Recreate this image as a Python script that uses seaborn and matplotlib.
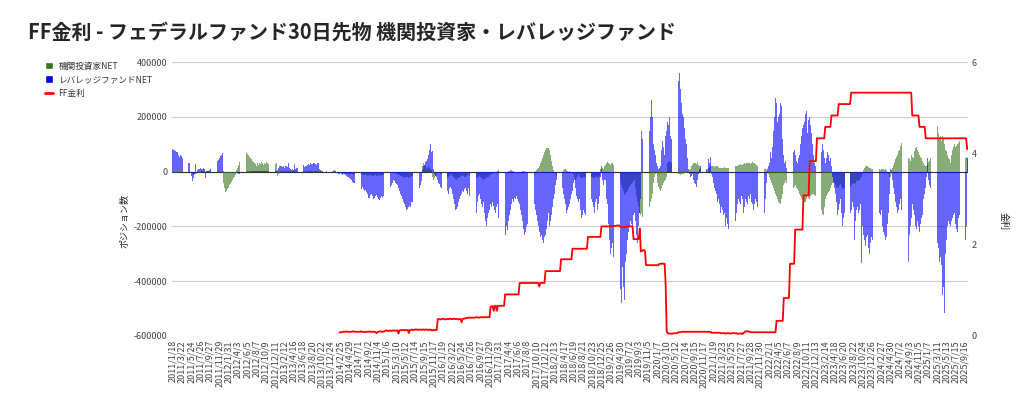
import numpy as np
import pandas as pd
import matplotlib
matplotlib.use("Agg")
import matplotlib.pyplot as plt
from matplotlib.patches import Patch
from matplotlib.lines import Line2D
import seaborn as sns

# 週次データ(千枚単位) 2011/1/18 から
start_date = "2011-01-18"

lev_2011 = [83, 80, 78, 75, 72, 70, 60, 55, 62, 58,
            50, 45, 42, 38, 35, 32, 30, -5, -15, -34,
            -25, -10, 28, -5, 5, 8, 10, 12, 10, 8,
            12, 10, -24, 3, 2, 4, 6, 10, 14, 18,
            22, 26, 32, 38, 44, 50, 56, 62, 67, 2,
            0, -3]
inst_2011 = [-4, -5, -3, -4, -2, -5, -3, -4, -3, -2,
             -3, -2, -4, -3, -2, -1, -2, -3, -5, -8,
             -10, -12, -10, -8, -6, -4, -3, -2, 2, 3,
             2, 1, 0, 1, 2, 1, 0, -1, 0, 1,
             2, 1, 0, -1, 0, 1, 0, -2, -4, -40,
             -60, -73]

lev_2012 = [-3, -2, -4, -3, -2, -1, -2, -3, -2, -1,
            -3, -5, -8, -8, -6, -4, -2, -2, -1, 0,
            2, 1, 0, 2, 1, 3, 2, 1, 2, 3,
            2, 1, 3, 2, 1, 2, 3, 2, 1, 2,
            3, 2, 1, 2, 3, 2, 1, 2, 3, 5,
            15, 20]
inst_2012 = [-70, -65, -60, -50, -45, -38, -30, -25, -20, -12,
             5, 15, 25, 35, 45, 52, 58, 63, 67, 68,
             66, 62, 55, 50, 45, 40, 35, 30, 28, 22,
             30, 25, 32, 27, 35, 30, 25, 33, 28, 36,
             30, 27, 32, 25, 30, 35, 38, 28, 33, -15,
             -10, -2]

lev_2013 = [20, 22, 18, 20, 15, 22, 20, 18, 30, 12,
            8, 6, 8, 5, 28, 10, 12, 15, 18, 20,
            15, 22, 25, 18, 20, 22, 25, 28, 24, 30,
            26, 28, 30, 32, 28, 25, 30, 32, 8, 5,
            3, 2, 0, -2, -3, -5, -8, -5, -3, -6,
            -2, 3]
inst_2013 = [2, 1, 3, 2, 1, 0, 2, 1, 3, 2,
             1, 0, 1, 2, 3, 2, 1, 0, 2, 1,
             0, 1, 2, 1, 0, 2, 1, 3, 2, 1,
             2, 1, 0, 1, 2, 3, 2, 1, 0, 1,
             0, -1, -2, -1, 0, 1, -1, -2, -1, 0,
             1, 0]

lev_2014 = [5, 3, -2, -5, -8, -10, -6, -10, -12, -8,
            -10, -12, -15, -18, -20, -25, -28, -32, -38, -40,
            -42, -45, -50, -48, -55, -60, -62, -58, -65, -70,
            -68, -75, -80, -95, -95, -85, -80, -90, -100, -95,
            -90, -85, -92, -100, -105, -98, -90, -95, -88, -80,
            -75, -70]
inst_2014 = [0, -1, -2, -3, -4, -5, -4, -6, -5, -6,
             -7, -8, -6, -8, -9, -10, -8, -9, -10, -12,
             -10, -9, -11, -12, -10, -9, -12, -11, -13, -12,
             -14, -12, -15, -13, -15, -14, -12, -16, -15, -14,
             -13, -15, -16, -14, -12, -15, -14, -13, -12, -10,
             -12, -11]

lev_2015 = [-65, -60, -55, -50, -40, -30, -35, -40, -45, -50,
            -60, -70, -80, -90, -100, -110, -120, -130, -140, -135,
            -130, -125, -130, -110, -110, -100, -105, -90, -80, -70,
            -60, -50, -35, 5, 20, 25, 35, 40, 45, 60,
            80, 100, 70, 75, 10, -10, -15, -20, -30, -40,
            -45, -55]
inst_2015 = [-10, -8, -6, -5, -4, -3, -5, -6, -8, -10,
             -12, -14, -15, -16, -18, -20, -22, -20, -18, -20,
             -22, -20, -18, -15, -14, -12, -10, -8, -6, -5,
             -4, -3, -2, 20, 30, 25, 20, 10, 15, 20,
             15, 10, 5, -20, -30, -25, -15, -10, -5, -3,
             -5, -8]

lev_2016 = [-60, -70, -80, -90, -85, -70, -80, -60, -55, -65,
            -80, -100, -120, -140, -135, -130, -110, -100, -90, -80,
            -70, -75, -65, -60, -70, -80, -60, -90, -110, -130,
            -150, -160, -175, -150, -110, -90, -80, -100, -120, -130,
            -110, -150, -180, -200, -170, -150, -140, -120, -130, -110,
            -125, -140]
inst_2016 = [-10, -12, -15, -18, -20, -22, -18, -15, -12, -10,
             -15, -20, -25, -28, -30, -25, -22, -20, -18, -15,
             -12, -15, -18, -20, -15, -12, -10, -15, -20, -25,
             -28, -30, -25, -22, -20, -18, -15, -20, -25, -28,
             -30, -28, -25, -22, -20, -18, -15, -12, -10, -8,
             -5, -3]

lev_2017 = [-150, -130, -120, -170, -200, -210, -230, -220, -235, -230,
            -200, -215, -180, -160, -140, -120, -100, -110, -95, -100,
            -90, -100, -110, -120, -140, -160, -180, -210, -230, -220,
            -200, -190, -160, -140, -130, -150, -130, -120, -140, -160,
            -180, -200, -220, -240, -230, -250, -260, -240, -230, -210,
            -180, -150]
inst_2017 = [-2, 0, 3, 5, 4, 2, 0, -3, -5, -4,
             -2, 0, 2, 4, 6, 5, 3, 1, 0, -2,
             -4, -6, -5, -3, -1, 0, 2, 3, 1, 0,
             -2, -3, -1, 0, 2, 3, 1, 0, 2, 5,
             10, 15, 20, 30, 40, 50, 60, 70, 80, 85,
             88, 86]

lev_2018 = [-200, -180, -160, -130, -100, -80, -50, -30, -25, -20,
            -30, -40, -60, -80, -100, -120, -150, -140, -130, -120,
            -100, -80, -70, -40, -30, -60, -90, -100, -110, -100,
            -140, -170, -160, -140, -150, -160, -140, -130, -120, -110,
            -100, -110, -130, -150, -110, -100, -140, -120, -90, -20,
            20, -30]
inst_2018 = [80, 60, 40, 20, 5, -5, -10, -15, -20, -15,
             -10, -5, 0, 5, 10, 8, 5, 3, 0, 2,
             0, -5, -10, -10, -20, -30, -25, -15, -10, -20,
             -20, -22, -25, -20, -18, -22, -20, -25, -22, -20,
             -18, -20, -22, -25, -20, -18, -20, -22, -15, 10,
             10, 15]

lev_2019 = [-50, -30, -30, -100, -120, -190, -250, -300, -280, -260,
            -310, -360, -400, -420, -400, -380, -430, -480, -350, -420,
            -470, -330, -300, -250, -220, -200, -180, -190, -220, -160,
            -150, -180, -230, -260, -200, -150, -100, 150, 120, 180,
            160, 140, 190, 170, 150, 200, 260, 200, 100, 80,
            60, 30]
inst_2019 = [10, 20, 25, 30, 35, 30, 28, 25, 32, 30,
             25, 20, 15, 10, 5, 0, -30, -50, -60, -70,
             -80, -85, -75, -70, -60, -55, -50, -45, -40, -35,
             -30, -60, -90, -110, -130, -150, -160, -150, -165, -175,
             -170, -165, -160, -140, -130, -110, -100, -80, -40, -20,
             -10, -5]

lev_2020 = [20, 10, 15, 20, 80, 110, 90, 60, 130, 150,
            180, 170, 200, 130, 120, 150, 220, 240, 260, 300,
            330, 360, 300, 250, 210, 200, 160, 120, 100, 50,
            10, -10, -20, -15, -10, -30, -40, -45, -55, -30,
            -10, 10, 20, 25, 15, 20, 10, 5, -5, 45,
            30, 55]
inst_2020 = [-40, -55, -65, -70, -60, -50, -40, -35, -30, -20,
             30, 35, 40, 35, 30, 25, 15, -5, -10, -10,
             -8, -10, -12, -10, -8, -10, -5, -5, -5, -3,
             0, 5, 10, 20, 25, 30, 32, 30, 28, 35,
             25, 20, 15, 12, 10, 12, 10, 8, 10, 15,
             18, 20]

lev_2021 = [-10, -20, -40, -60, -70, -80, -110, -100, -120, -150,
            -130, -140, -160, -150, -200, -170, -190, -210, -200, -180,
            -190, -200, -250, -180, -150, -120, -100, -110, -120, -90,
            -100, -150, -130, -100, -110, -120, -90, -100, -80, -110,
            -120, -140, -120, -100, -110, -130, -140, -150, -160, -170,
            -180, -150]
inst_2021 = [20, 22, 20, 18, 20, 22, 20, 18, 15, 15,
             12, 15, 15, 18, 15, 15, 12, 15, 18, 20,
             18, 15, 15, 20, 22, 20, 25, 25, 28, 25,
             25, 28, 30, 28, 30, 30, 32, 30, 28, 32,
             35, 30, 32, 28, 25, 22, 20, 20, 18, 15,
             12, 10]

lev_2022 = [-100, -40, 10, 20, 30, 70, 50, 90, 150, 200,
            270, 250, 180, 200, 210, 250, 240, 120, 60, 30,
            40, 15, -10, 80, 90, 70, 50, 70, 80, 60,
            40, 30, 50, 60, 100, 130, 160, 170, 180, 210,
            220, 140, 190, 200, 170, 140, 100, 60, 30, 20,
            -20, 40]
inst_2022 = [8, 5, 0, -10, -20, -30, -40, -50, -60, -70,
             -80, -90, -100, -110, -116, -120, -100, -80, -50, -40,
             -35, -40, -50, -55, -45, -40, -50, -60, -55, -50,
             -60, -65, -70, -80, -90, -95, -100, -105, -110, -110,
             -100, -90, -95, -100, -90, -85, -80, -80, -85, -90,
             -100, -110]

lev_2023 = [60, 50, 70, 100, 80, 50, 30, 50, 70, 60,
            40, 50, 20, -20, -40, -60, -80, -110, -160, -140,
            -120, -100, -150, -200, -170, -150, -170, -130, -120, -160,
            -150, -140, -110, -130, -250, -180, -140, -130, -150, -140,
            -120, -335, -200, -230, -250, -270, -240, -230, -280, -300,
            -260, -240]
inst_2023 = [-120, -130, -140, -155, -160, -130, -100, -90, -80, -75,
             -70, -60, -50, -40, -35, -40, -50, -55, -60, -55,
             -50, -45, -55, -60, -65, -60, -55, -50, -45, -50,
             -55, -50, -45, -40, -45, -40, -35, -30, -35, -30,
             -25, -20, -10, 5, 15, 20, 22, 20, 18, 15,
             12, 10]

lev_2024 = [-250, -260, -220, -200, -180, -170, -150, -160, -140, -200,
            -220, -230, -250, -240, -190, -150, -80, 10, 5, -30,
            -60, -80, -110, -130, -150, -140, -120, -100, -140, -130,
            -90, -80, -90, -180, -330, -230, -200, -170, -120, -140,
            -160, -200, -210, -180, -200, -220, -190, -170, -160, -100,
            -80, -60]
inst_2024 = [8, 10, 8, 6, 8, 10, 8, 6, 8, 10,
             8, 6, 8, 5, 0, -10, -20, -20, -10, 15,
             25, 35, 45, 55, 60, 75, 80, 95, 105, 110,
             80, 70, 60, 55, 50, 45, 40, 60, 55, 50,
             75, 85, 90, 80, 70, 60, 55, 50, 40, 30,
             25, 20]

lev_2025 = [-20, 50, -30, -50, -60, -70, -80, -100, -150, -220,
            -260, -280, -330, -310, -340, -450, -420, -515, -300, -250,
            -200, -180, -190, -200, -180, -170, -160, -150, -190, -210,
            -220, -170, -160, -290, -400, -488, -300, -250, -200, 50]
inst_2025 = [20, 25, 35, 40, 50, 65, 80, 95, 110, 130,
             165, 140, 120, 130, 110, 130, 120, 100, 80, 75,
             60, 50, 45, 30, 60, 80, 90, 100, 90, 95,
             100, 105, 110, 100, 125, 90, 60, 50, 55, 50]

# FF金利(%) 2014/2/18 から
ff_start = "2014-02-18"
ff_2014 = [0.07, 0.08, 0.08, 0.09, 0.09, 0.09, 0.09, 0.10, 0.09, 0.09,
           0.09, 0.09, 0.09, 0.10, 0.10, 0.09, 0.09, 0.09, 0.09, 0.09,
           0.09, 0.10, 0.09, 0.09, 0.08, 0.09, 0.09, 0.09, 0.09, 0.10,
           0.09, 0.09, 0.09, 0.09, 0.09, 0.08, 0.06, 0.09, 0.09, 0.10,
           0.10, 0.09, 0.09, 0.10, 0.10, 0.12, 0.12]
ff_2015 = [0.11, 0.11, 0.12, 0.11, 0.11, 0.12, 0.12, 0.11, 0.12, 0.12,
           0.05, 0.12, 0.13, 0.12, 0.13, 0.13, 0.12, 0.13, 0.13, 0.13,
           0.06, 0.13, 0.13, 0.14, 0.13, 0.13, 0.14, 0.14, 0.14, 0.13,
           0.14, 0.14, 0.13, 0.14, 0.14, 0.13, 0.14, 0.14, 0.13, 0.14,
           0.13, 0.14, 0.12, 0.13, 0.12, 0.13, 0.13, 0.13, 0.37, 0.37,
           0.36, 0.36]
ff_2016 = [0.37, 0.38, 0.37, 0.36, 0.37, 0.37, 0.37, 0.37, 0.38, 0.37,
           0.37, 0.37, 0.38, 0.37, 0.37, 0.37, 0.36, 0.37, 0.37, 0.30,
           0.37, 0.38, 0.38, 0.39, 0.39, 0.40, 0.40, 0.40, 0.40, 0.40,
           0.40, 0.40, 0.40, 0.41, 0.41, 0.40, 0.40, 0.41, 0.41, 0.41,
           0.41, 0.41, 0.41, 0.41, 0.41, 0.41, 0.41, 0.64, 0.65, 0.65,
           0.55, 0.66]
ff_2017 = [0.66, 0.55, 0.66, 0.66, 0.66, 0.66, 0.66, 0.66, 0.66, 0.91,
           0.91, 0.91, 0.91, 0.91, 0.91, 0.91, 0.91, 0.91, 0.91, 0.91,
           0.91, 0.91, 0.91, 1.16, 1.16, 1.16, 1.16, 1.16, 1.16, 1.16,
           1.16, 1.16, 1.16, 1.16, 1.16, 1.16, 1.16, 1.16, 1.16, 1.16,
           1.16, 1.16, 1.08, 1.16, 1.16, 1.16, 1.16, 1.16, 1.42, 1.42,
           1.42, 1.42]
ff_2018 = [1.42, 1.42, 1.42, 1.42, 1.42, 1.42, 1.42, 1.42, 1.42, 1.42,
           1.42, 1.68, 1.68, 1.68, 1.68, 1.68, 1.68, 1.68, 1.68, 1.68,
           1.68, 1.68, 1.91, 1.91, 1.91, 1.91, 1.91, 1.91, 1.91, 1.91,
           1.91, 1.91, 1.91, 1.91, 1.91, 1.91, 1.91, 2.17, 2.17, 2.17,
           2.17, 2.17, 2.17, 2.17, 2.17, 2.17, 2.17, 2.17, 2.17, 2.17,
           2.40, 2.40]
ff_2019 = [2.40, 2.40, 2.40, 2.40, 2.40, 2.40, 2.40, 2.41, 2.41, 2.41,
           2.41, 2.41, 2.41, 2.42, 2.42, 2.42, 2.40, 2.38, 2.38, 2.38,
           2.38, 2.38, 2.39, 2.40, 2.40, 2.40, 2.40, 2.40, 2.40, 2.12,
           2.12, 2.12, 2.12, 2.12, 2.13, 2.35, 1.85, 1.86, 1.88, 1.88,
           1.86, 1.55, 1.55, 1.55, 1.55, 1.55, 1.55, 1.55, 1.55, 1.55,
           1.55, 1.55]
ff_2020 = [1.55, 1.55, 1.58, 1.58, 1.58, 1.59, 1.58, 1.58, 1.10, 0.09,
           0.06, 0.05, 0.05, 0.05, 0.05, 0.05, 0.06, 0.06, 0.06, 0.06,
           0.08, 0.08, 0.08, 0.09, 0.09, 0.09, 0.09, 0.09, 0.09, 0.09,
           0.09, 0.09, 0.09, 0.09, 0.09, 0.09, 0.09, 0.09, 0.09, 0.09,
           0.09, 0.09, 0.09, 0.09, 0.09, 0.09, 0.09, 0.09, 0.09, 0.09,
           0.09, 0.09]
ff_2021 = [0.07, 0.07, 0.07, 0.07, 0.07, 0.07, 0.07, 0.07, 0.07, 0.06,
           0.06, 0.06, 0.06, 0.06, 0.05, 0.06, 0.06, 0.06, 0.05, 0.05,
           0.06, 0.06, 0.06, 0.06, 0.06, 0.05, 0.05, 0.05, 0.05, 0.06,
           0.04, 0.06, 0.08, 0.10, 0.10, 0.10, 0.10, 0.09, 0.08, 0.08,
           0.08, 0.08, 0.08, 0.08, 0.08, 0.08, 0.08, 0.08, 0.08, 0.08,
           0.08, 0.08]
ff_2022 = [0.08, 0.08, 0.08, 0.08, 0.08, 0.08, 0.08, 0.08, 0.08, 0.08,
           0.08, 0.33, 0.33, 0.33, 0.33, 0.33, 0.33, 0.33, 0.83, 0.83,
           0.83, 0.83, 0.83, 0.83, 1.58, 1.58, 1.58, 1.58, 1.58, 2.33,
           2.33, 2.33, 2.33, 2.33, 2.33, 2.33, 2.33, 3.08, 3.08, 3.08,
           3.08, 3.08, 3.08, 3.83, 3.83, 3.83, 3.83, 3.83, 3.83, 3.83,
           4.33, 4.33]
ff_2023 = [4.33, 4.33, 4.33, 4.33, 4.33, 4.33, 4.58, 4.58, 4.58, 4.58,
           4.58, 4.58, 4.83, 4.83, 4.83, 4.83, 4.83, 4.83, 4.83, 5.08,
           5.08, 5.08, 5.08, 5.08, 5.08, 5.08, 5.08, 5.08, 5.08, 5.08,
           5.08, 5.33, 5.33, 5.33, 5.33, 5.33, 5.33, 5.33, 5.33, 5.33,
           5.33, 5.33, 5.33, 5.33, 5.33, 5.33, 5.33, 5.33, 5.33, 5.33,
           5.33, 5.33]
ff_2024 = [5.33, 5.33, 5.33, 5.33, 5.33, 5.33, 5.33, 5.33, 5.33, 5.33,
           5.33, 5.33, 5.33, 5.33, 5.33, 5.33, 5.33, 5.33, 5.33, 5.33,
           5.33, 5.33, 5.33, 5.33, 5.33, 5.33, 5.33, 5.33, 5.33, 5.33,
           5.33, 5.33, 5.33, 5.33, 5.33, 5.33, 5.33, 5.33, 4.83, 4.83,
           4.83, 4.83, 4.83, 4.83, 4.83, 4.58, 4.58, 4.58, 4.58, 4.58,
           4.58, 4.33]
ff_2025 = [4.33, 4.33, 4.33, 4.33, 4.33, 4.33, 4.33, 4.33, 4.33, 4.33,
           4.33, 4.33, 4.33, 4.33, 4.33, 4.33, 4.33, 4.33, 4.33, 4.33,
           4.33, 4.33, 4.33, 4.33, 4.33, 4.33, 4.33, 4.33, 4.33, 4.33,
           4.33, 4.33, 4.33, 4.33, 4.33, 4.33, 4.33, 4.33, 4.33, 4.09]

lev = (lev_2011 + lev_2012 + lev_2013 + lev_2014 + lev_2015 + lev_2016 + lev_2017
       + lev_2018 + lev_2019 + lev_2020 + lev_2021 + lev_2022 + lev_2023 + lev_2024 + lev_2025)
inst = (inst_2011 + inst_2012 + inst_2013 + inst_2014 + inst_2015 + inst_2016 + inst_2017
        + inst_2018 + inst_2019 + inst_2020 + inst_2021 + inst_2022 + inst_2023 + inst_2024 + inst_2025)
ff = (ff_2014 + ff_2015 + ff_2016 + ff_2017 + ff_2018 + ff_2019 + ff_2020
      + ff_2021 + ff_2022 + ff_2023 + ff_2024 + ff_2025)
assert len(lev) == len(inst) == 768, (len(lev), len(inst))

dates = pd.date_range(start_date, periods=len(lev), freq="7D")
labels = [f"{d.year}/{d.month}/{d.day}" for d in dates]
ff_s = pd.Series(ff, index=pd.date_range(ff_start, periods=len(ff), freq="7D"))
assert ff_s.index[-1] == dates[-1], (ff_s.index[-1], dates[-1])

df = pd.DataFrame({
    "date": labels,
    "inst": np.array(inst) * 1000,
    "lev": np.array(lev) * 1000,
    "ff": ff_s.reindex(dates).values,
})
n = len(df)

sns.set_style("white")
plt.rcParams["font.family"] = ["Noto Sans CJK JP", "DejaVu Sans"]

fig = plt.figure(figsize=(10.24, 3.98), dpi=100)
ax = fig.add_axes([0.168, 0.156, 0.777, 0.688])

sns.barplot(data=df, x="date", y="inst", color="#38761d", saturation=1, alpha=0.6,
            width=0.8, errorbar=None, linewidth=0, ax=ax, zorder=2)
sns.barplot(data=df, x="date", y="lev", color="#0000ff", saturation=1, alpha=0.6,
            width=0.8, errorbar=None, linewidth=0, ax=ax, zorder=3)

ax.set_ylim(-600000, 400000)
ax.set_yticks(np.arange(-600000, 400001, 200000))
ax.set_yticklabels([f"{v:d}" for v in range(-600000, 400001, 200000)])
ax.grid(axis="y", color="#cccccc", lw=0.8, zorder=0)
ax.grid(axis="x", visible=False)
ax.axhline(0, color="#333333", lw=0.8, zorder=1)
ax.set_axisbelow(True)

ax.set_xticks(range(0, n, 9))
ax.set_xticklabels(labels[::9], rotation=90)
ax.tick_params(axis="both", length=0, labelsize=6.5, labelcolor="#444444")
ax.tick_params(axis="x", pad=3)
ax.set_xlabel("")
ax.set_ylabel("ポジション数", fontsize=6.5, color="#222222")
ax.yaxis.set_label_coords(-0.053, 0.42)
for s in ax.spines.values():
    s.set_visible(False)

ax2 = ax.twinx()
sns.lineplot(x=np.arange(n), y=df["ff"].values, color="#ff0000", lw=1.3, ax=ax2)
ax2.set_ylim(0, 6)
ax2.set_yticks([0, 2, 4, 6])
ax2.tick_params(axis="y", length=0, labelsize=6.5, labelcolor="#444444", pad=3)
ax2.set_ylabel("金利", fontsize=6.5, color="#222222", rotation=-90, va="bottom")
ax2.yaxis.set_label_coords(1.039, 0.42)
ax2.grid(False)
for s in ax2.spines.values():
    s.set_visible(False)
ax.set_xlim(-0.5, n - 0.5)

fig.text(0.027, 0.92, "FF金利 - フェデラルファンド30日先物 機関投資家・レバレッジファンド",
         fontsize=14.4, fontweight="bold", va="center", ha="left")

handles = [Patch(facecolor="#38761d"), Patch(facecolor="#0000ff"),
           Line2D([0], [0], color="#ff0000", lw=2)]
fig.legend(handles, ["機関投資家NET", "レバレッジファンドNET", "FF金利"],
           loc="upper left", bbox_to_anchor=(0.036, 0.865), frameon=False,
           fontsize=6.2, handlelength=1.0, handleheight=1.0, labelspacing=0.55,
           handletextpad=0.6, labelcolor="#333333")

fig.savefig("out.png", dpi=100)
